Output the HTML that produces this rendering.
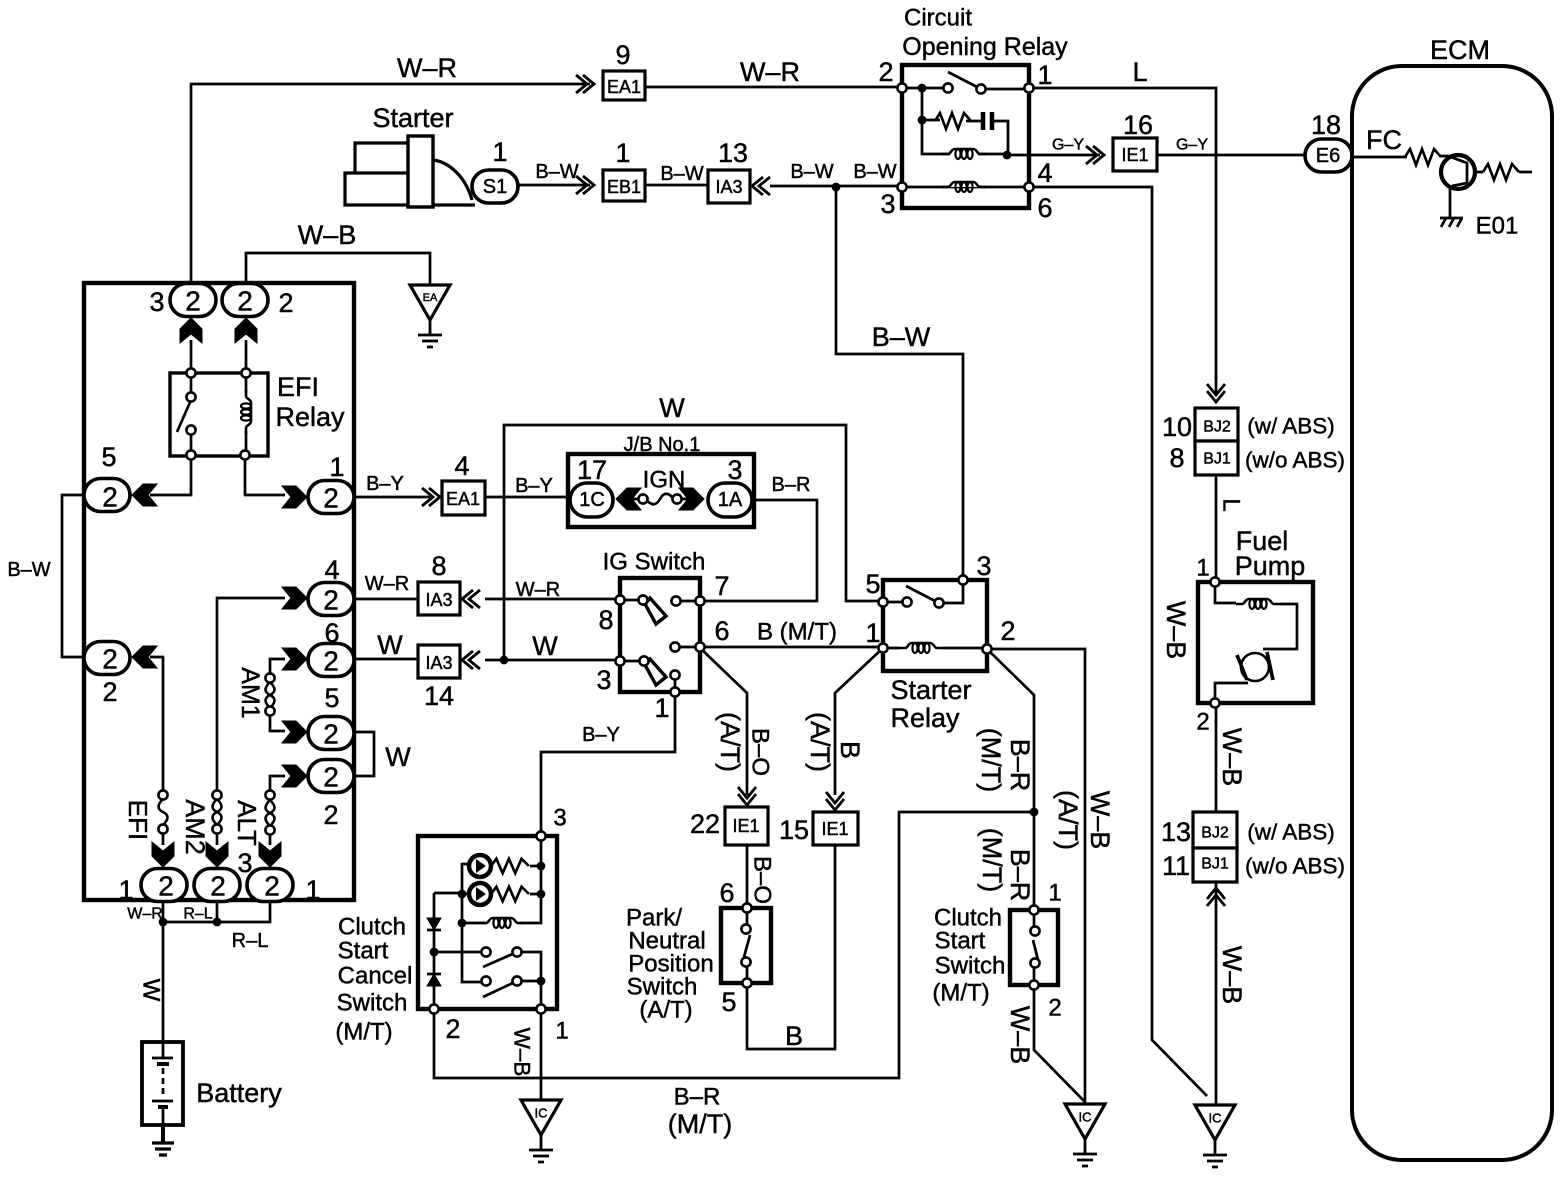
<!DOCTYPE html>
<html><head><meta charset="utf-8"><title>Fuel pump wiring diagram</title>
<style>
html,body{margin:0;padding:0;background:#fff}
svg{display:block}
text{font-family:"Liberation Sans",sans-serif;font-size:27px;text-anchor:middle;dominant-baseline:central;fill:#000;stroke:#000;stroke-width:.45}
.s{font-size:20px}.xs{font-size:16px}.m{font-size:24px}.b{font-size:28px}.c{font-size:18px}.a{font-size:22.5px}
.w{fill:none;stroke:#000;stroke-width:2.7;stroke-linejoin:miter}
.k{fill:none;stroke:#000;stroke-width:4.4;stroke-linejoin:miter}
.o{fill:#fff;stroke:#000;stroke-width:3.6}
.x{fill:#fff;stroke:#000;stroke-width:3.2}
</style></head><body>
<svg width="1560" height="1184" viewBox="0 0 1560 1184" xmlns="http://www.w3.org/2000/svg">
<defs>
<polygon id="ch" points="-25,-11 -11,-11 0,0 -11,11 -25,11 -16,0" fill="#000" stroke="#000"/>
<path id="ar" d="M-11,-9 L0,0 L-11,9 M-18,-9 L-7,0 L-18,9" fill="none" stroke="#000" stroke-width="2.8"/>
<circle id="t" r="4.6" fill="#fff" stroke="#000" stroke-width="2.6"/>
<circle id="d" r="4.4" fill="#000"/>
<g id="coil"><path d="M-22,0 H-16 C-13,0 -13,-5 -9,-5 H9 C13,-5 13,0 16,0 H22" fill="#fff" stroke="#000" stroke-width="2.6"/><ellipse cx="-6" cy="0" rx="2.6" ry="5" fill="none" stroke="#000" stroke-width="2.2"/><ellipse cx="0" cy="0" rx="2.6" ry="5" fill="none" stroke="#000" stroke-width="2.2"/><ellipse cx="6" cy="0" rx="2.6" ry="5" fill="none" stroke="#000" stroke-width="2.2"/></g>
<path id="res" d="M-18,0 L-13,-8 L-7,8 L-1,-8 L5,8 L11,-8 L18,0" fill="none" stroke="#000" stroke-width="2.6"/>
<path id="fuse" d="M0,0 V4 C-6,10 -6,14 0,17 C6,20 6,24 0,30 V34" fill="none" stroke="#000" stroke-width="2.6"/>
<path id="fuse2" d="M0,0 V4 C-6,10 -6,14 0,17 C6,20 6,24 0,30 V34 M0,0 V4 C6,10 6,14 0,17 C-6,20 -6,24 0,30 V34" fill="none" stroke="#000" stroke-width="2.6"/>
<path id="gnd" d="M0,0 V16 M-12,16 H12 M-8,22 H8 M-3,28 H3" fill="none" stroke="#000" stroke-width="2.8"/>
<rect id="ov" x="-23" y="-16.5" width="46" height="33" rx="16.5" class="o"/>
</defs>
<rect width="1560" height="1184" fill="#fff"/>

<!-- wires -->
<g class="w">
<path d="M191,283 V84 H590 M645,87 H902 M1029,88 H1216 V395"/>
<path d="M518,185 H590 M645,185 H708 M770,186 H902 M836,187 V354 H963 V580"/>
<path d="M1007,155 H1100 M1157,155 H1305 M1352,157 H1407"/>
<path d="M1029,187 H1152 V1040 L1207,1096"/>
<path d="M1216,475 V582 M1216,703 V812 M1216,882 V1105"/>
<path d="M246,283 V253 H430 V285"/>
<path d="M191,340 V373 M246,340 V373 M191,455 V495 H150 M245,455 V495 H285"/>
<path d="M84,495 H62 V657 H84 M150,657 H163 V795 M163,829 V845"/>
<path d="M285,598 H217 V795 M217,829 V845 M285,776 H270 V795 M270,830 V845"/>
<path d="M285,659 H270 V678 M270,712 V731 H285 M354,732 H374 V776 H354"/>
<path d="M163,902 V1042 M163,922 H270 V902 M217,902 V922"/>
<path d="M354,497 H430 M485,497 H568 M754,500 H817 V601 H700"/>
<path d="M354,599 H418 M485,599 H620 M354,659 H418 M485,660 H620"/>
<path d="M504,660 V425 H846 V601 H883"/>
<path d="M699,647 H883 M699,647 L747,693 V795 M883,648 L835,693 V795"/>
<path d="M747,845 V908 M747,984 V1049 H835 V845"/>
<path d="M987,649 H1085 V1105 M987,649 L1034,695 V910 M1034,812 H899 V1078 H434 V1009"/>
<path d="M1034,985 V1050 L1085,1102"/>
<path d="M541,836 V752 H675 V692 M541,1009 V1100"/>
</g>

<!-- Starter -->
<g class="w" stroke-width="3.2">
<path d="M408,143 H355 V172 M408,173 H345 V205 H475 M433,160 C450,162 466,178 472,200" style="stroke-width:3.2"/>
<rect x="408" y="136" width="25" height="71" fill="#fff" style="stroke-width:3.4"/>
</g>

<!-- connector boxes -->
<rect x="603" y="71" width="42" height="29" class="x"/><text class="c" x="624" y="87">EA1</text>
<rect x="603" y="170" width="42" height="31" class="x"/><text class="c" x="624" y="187">EB1</text>
<rect x="708" y="170" width="42" height="33" class="x"/><text class="c" x="729" y="187">IA3</text>
<rect x="1113" y="138" width="44" height="33" class="x"/><text class="c" x="1135" y="155">IE1</text>
<rect x="442" y="481" width="43" height="34" class="x"/><text class="c" x="463" y="499">EA1</text>
<rect x="418" y="582" width="42" height="33" class="x"/><text class="c" x="439" y="600">IA3</text>
<rect x="418" y="645" width="42" height="33" class="x"/><text class="c" x="439" y="663">IA3</text>
<rect x="725" y="807" width="43" height="38" class="x"/><text class="c" x="746" y="826">IE1</text>
<rect x="813" y="812" width="45" height="33" class="x"/><text class="c" x="835" y="829">IE1</text>
<rect x="1195" y="408" width="43" height="33" class="x"/><text class="xs" x="1217" y="427">BJ2</text>
<rect x="1195" y="441" width="43" height="34" class="x"/><text class="xs" x="1217" y="459">BJ1</text>
<rect x="1193" y="812" width="44" height="36" class="x"/><text class="xs" x="1215" y="833">BJ2</text>
<rect x="1193" y="848" width="44" height="34" class="x"/><text class="xs" x="1215" y="864">BJ1</text>

<!-- open arrows -->
<use href="#ar" transform="translate(594,84)"/>
<use href="#ar" transform="translate(594,185)"/>
<use href="#ar" transform="translate(752,186) rotate(180)"/>
<use href="#ar" transform="translate(1104,155)"/>
<use href="#ar" transform="translate(1216,402) rotate(90)"/>
<use href="#ar" transform="translate(1216,888) rotate(-90)"/>
<use href="#ar" transform="translate(440,497)"/>
<use href="#ar" transform="translate(462,599) rotate(180)"/>
<use href="#ar" transform="translate(462,660) rotate(180)"/>
<use href="#ar" transform="translate(747,805) rotate(90)"/>
<use href="#ar" transform="translate(835,810) rotate(90)"/>

<!-- Circuit opening relay -->
<rect x="902" y="65" width="127" height="143" class="k"/>
<g class="w">
<path d="M902,88 H944 M985,89 H1029 M948,72 L981,89"/>
<path d="M922,88 V154 H950 M922,120 H940 M966,121 H983 M992,121 H1008 V154 M978,154 H1008"/>
<path d="M983,112 V130 M992,112 V130" style="stroke-width:4.5"/>
<path d="M902,187 H1029"/>
</g>
<use href="#res" transform="translate(953,121)"/>
<use href="#coil" transform="translate(964,154)"/>
<use href="#coil" transform="translate(964,187)"/>
<use href="#t" x="902" y="88"/><use href="#t" x="1029" y="88"/><use href="#t" x="902" y="187"/><use href="#t" x="1029" y="187"/>
<use href="#t" x="948" y="88"/><use href="#t" x="981" y="89"/>
<use href="#d" x="922" y="88"/><use href="#d" x="922" y="120"/><use href="#d" x="1007" y="155"/><use href="#d" x="836" y="187"/>

<!-- S1 and E6 -->
<rect x="472" y="170" width="46" height="33" rx="16.5" class="o"/><text class="s" x="495" y="187">S1</text>
<rect x="1305" y="139" width="47" height="33" rx="16.5" class="o"/><text class="s" x="1328" y="156">E6</text>

<!-- ECM -->
<rect x="1352" y="66" width="200" height="1094" rx="50" fill="none" stroke="#000" stroke-width="4"/>
<use href="#res" transform="translate(1423,157)"/>
<use href="#res" transform="translate(1501,172)"/>
<circle cx="1458" cy="172" r="17" fill="none" stroke="#000" stroke-width="4.2"/>
<g class="w"><path d="M1440,156 H1448 L1467,163 V183 L1452,186 M1450,187 V217 M1519,172 H1532 M1475,172 H1483"/>
<path d="M1440,218 H1463 M1441,227 L1446,218 M1449,227 L1454,218 M1457,227 L1462,218"/></g>

<!-- Main box -->
<rect x="84" y="283" width="270" height="617" class="k"/>
<!-- EFI relay -->
<rect x="170" y="373" width="98" height="83" class="k" style="stroke-width:3.4"/>
<g class="w">
<path d="M191,373 V397 M191,430 V455 M246,373 V393 M246,431 V455 M191,400 L177,432"/>
</g>
<g transform="translate(246,412) rotate(90)"><use href="#coil"/></g>
<use href="#t" x="191" y="373"/><use href="#t" x="246" y="373"/><use href="#t" x="191" y="455"/><use href="#t" x="245" y="455"/>
<use href="#t" x="191" y="397"/><use href="#t" x="191" y="430"/>

<!-- chevrons -->
<use href="#ch" transform="translate(191,318) rotate(-90)"/>
<use href="#ch" transform="translate(246,318) rotate(-90)"/>
<use href="#ch" transform="translate(132,495) rotate(180)"/>
<use href="#ch" transform="translate(307,497)"/>
<use href="#ch" transform="translate(307,598)"/>
<use href="#ch" transform="translate(307,659)"/>
<use href="#ch" transform="translate(307,732)"/>
<use href="#ch" transform="translate(307,776)"/>
<use href="#ch" transform="translate(132,657) rotate(180)"/>
<use href="#ch" transform="translate(163,867) rotate(90)"/>
<use href="#ch" transform="translate(217,867) rotate(90)"/>
<use href="#ch" transform="translate(270,867) rotate(90)"/>

<!-- fuses -->
<use href="#fuse" x="163" y="795"/><use href="#fuse2" x="217" y="795"/><use href="#fuse2" x="270" y="796"/><use href="#fuse2" x="270" y="678"/>
<use href="#t" x="163" y="795"/><use href="#t" x="163" y="829"/><use href="#t" x="217" y="795"/><use href="#t" x="217" y="829"/><use href="#t" x="270" y="795"/><use href="#t" x="270" y="830"/><use href="#t" x="270" y="678"/><use href="#t" x="270" y="711"/>

<!-- ovals with 2 -->
<use href="#ov" x="193" y="300"/><text class="b" x="193" y="301">2</text>
<use href="#ov" x="245" y="300"/><text class="b" x="245" y="301">2</text>
<use href="#ov" x="107" y="495"/><text class="b" x="110" y="497">2</text>
<use href="#ov" x="331" y="497"/><text class="b" x="331" y="498">2</text>
<use href="#ov" x="331" y="599"/><text class="b" x="331" y="600">2</text>
<use href="#ov" x="331" y="660"/><text class="b" x="331" y="661">2</text>
<use href="#ov" x="331" y="733"/><text class="b" x="331" y="734">2</text>
<use href="#ov" x="331" y="776"/><text class="b" x="331" y="777">2</text>
<use href="#ov" x="107" y="658"/><text class="b" x="110" y="659">2</text>
<use href="#ov" x="164" y="885"/><text class="b" x="166" y="886">2</text>
<use href="#ov" x="217" y="885"/><text class="b" x="218" y="886">2</text>
<use href="#ov" x="270" y="885"/><text class="b" x="272" y="886">2</text>
<use href="#d" x="163" y="922"/><use href="#d" x="217" y="922"/>

<!-- battery -->
<rect x="142" y="1042" width="41" height="83" fill="#fff" stroke="#000" stroke-width="3.8"/>
<g class="w"><path d="M163,1042 V1058 M152,1058 H173 M163,1101 H163 M152,1101 H173 M163,1107 V1125"/>
<path d="M163,1068 V1098" stroke-dasharray="6 4"/>
<path d="M157,1064 H169 M158,1107 H168" style="stroke-width:4"/></g>
<path d="M163,1125 V1143" stroke="#000" stroke-width="4" fill="none"/>
<path d="M152,1143 H174 M155,1149 H171 M159,1155 H167" stroke="#000" stroke-width="3.2" fill="none"/>

<!-- grounds -->
<polygon points="410,285 450,285 430,320" class="x"/><text x="430" y="298" style="font-size:11px">EA</text><use href="#gnd" x="430" y="319"/>
<polygon points="521,1100 561,1100 541,1135" class="x"/><text x="541" y="1113" style="font-size:13px">IC</text><use href="#gnd" x="541" y="1134"/>
<polygon points="1065,1104 1105,1104 1085,1139" class="x"/><text x="1085" y="1117" style="font-size:13px">IC</text><use href="#gnd" x="1085" y="1138"/>
<polygon points="1195,1105 1235,1105 1215,1140" class="x"/><text x="1215" y="1118" style="font-size:13px">IC</text><use href="#gnd" x="1215" y="1139"/>

<!-- J/B -->
<rect x="568" y="454" width="186" height="73" class="k"/>
<rect x="570" y="483" width="43" height="34" rx="17" class="o"/><text class="s" x="592" y="500">1C</text>
<rect x="708" y="483" width="44" height="34" rx="17" class="o"/><text class="s" x="730" y="500">1A</text>
<use href="#ch" transform="translate(616,499) rotate(180)"/>
<use href="#ch" transform="translate(704,499)"/>
<g class="w"><path d="M630,499 H640 M680,499 H690 M645,499 C652,506 656,506 660,499 C664,492 668,492 674,499"/></g>
<use href="#t" x="643" y="499"/><use href="#t" x="677" y="499"/>

<!-- IG switch -->
<rect x="620" y="578" width="80" height="114" class="k"/>
<g class="w">
<path d="M620,600 H640 M680,601 H700 M680,647 H700 M620,661 H640 M675,680 V692"/>
<polygon points="645,604 650,598 666,616 656,624" fill="#fff" style="stroke-width:3.4"/>
<polygon points="645,665 650,659 666,677 656,685" fill="#fff" style="stroke-width:3.4"/>
</g>
<use href="#t" x="620" y="600"/><use href="#t" x="700" y="601"/><use href="#t" x="620" y="661"/><use href="#t" x="700" y="647"/><use href="#t" x="675" y="692"/>
<use href="#t" x="643" y="600"/><use href="#t" x="676" y="601"/><use href="#t" x="644" y="661"/><use href="#t" x="675" y="647"/><use href="#t" x="675" y="675"/>
<use href="#d" x="504" y="660"/>

<!-- Starter relay -->
<rect x="883" y="580" width="104" height="91" class="k"/>
<g class="w"><path d="M883,602 H907 M906,586 L939,603 M939,603 H963 V580"/></g>
<use href="#coil" transform="translate(921,648)"/>
<g class="w"><path d="M883,648 H900 M943,648 H987"/></g>
<use href="#t" x="883" y="602"/><use href="#t" x="963" y="580"/><use href="#t" x="883" y="648"/><use href="#t" x="987" y="649"/><use href="#t" x="907" y="602"/><use href="#t" x="939" y="603"/>

<!-- Fuel pump -->
<rect x="1198" y="582" width="115" height="121" class="k"/>
<g class="w"><path d="M1215,582 V603 H1236 M1280,604 H1297 V649 H1263 M1248,683 H1215 V703"/></g>
<use href="#coil" transform="translate(1258,604)"/>
<circle cx="1255" cy="667" r="14" fill="none" stroke="#000" stroke-width="2.6"/>
<path d="M1237,655 L1247,680 M1267,652 L1273,680" fill="none" stroke="#000" stroke-width="3.6"/>
<use href="#t" x="1215" y="582"/><use href="#t" x="1215" y="703"/>

<!-- Clutch start cancel switch -->
<rect x="418" y="836" width="139" height="173" class="k"/>
<g class="w">
<path d="M541,836 V923 H520 M485,923 H462 V982 H486 M462,863 V923 M434,893 H462 M434,893 V1009"/>
<path d="M541,866 H530 M541,894 H530 M462,864 H468 M462,894 H468"/>
<path d="M434,952 H486 M517,952 H541 V1009 M517,981 H541 M483,967 L517,952 M483,997 L517,981"/>
<polygon points="427,918 441,918 434,930" fill="#000" style="stroke-width:1"/><path d="M427,930 H441"/>
<polygon points="427,986 441,986 434,974" fill="#000" style="stroke-width:1"/><path d="M427,974 H441"/>
</g>
<circle cx="480" cy="866" r="11" fill="#fff" stroke="#000" stroke-width="4.5"/><path d="M476,859 V873 L486,866Z" fill="#000"/>
<circle cx="480" cy="894" r="11" fill="#fff" stroke="#000" stroke-width="4.5"/><path d="M476,887 V901 L486,894Z" fill="#000"/>
<use href="#res" transform="translate(510,866) scale(1.05,.9)"/>
<use href="#res" transform="translate(510,894) scale(1.05,.9)"/>
<g class="w"><path d="M491,866 H493 M491,894 H493"/></g>
<use href="#coil" transform="translate(502,923)"/>
<use href="#d" x="541" y="866"/><use href="#d" x="541" y="894"/><use href="#d" x="462" y="894"/><use href="#d" x="462" y="923"/><use href="#d" x="434" y="952"/><use href="#d" x="541" y="981"/>
<use href="#t" x="541" y="836"/><use href="#t" x="434" y="1009"/><use href="#t" x="541" y="1009"/>
<use href="#t" x="486" y="952"/><use href="#t" x="517" y="952"/><use href="#t" x="486" y="981"/><use href="#t" x="517" y="981"/>

<!-- Park neutral -->
<rect x="721" y="908" width="50" height="75" class="k"/>
<g class="w"><path d="M747,908 V929 M747,962 V983 M750,935 L744,957"/></g>
<use href="#t" x="747" y="908"/><use href="#t" x="747" y="983"/><use href="#t" x="746" y="929"/><use href="#t" x="746" y="962"/>

<!-- Clutch start -->
<rect x="1010" y="910" width="48" height="75" class="k"/>
<g class="w"><path d="M1034,910 V931 M1034,963 V985 M1033,940 L1038,960"/></g>
<use href="#t" x="1034" y="910"/><use href="#t" x="1034" y="985"/><use href="#t" x="1035" y="931"/><use href="#t" x="1035" y="963"/>
<use href="#d" x="1034" y="812"/>

<!-- labels -->
<text x="427" y="68">W–R</text><text x="770" y="72">W–R</text><text x="623" y="55">9</text>
<text x="886" y="72">2</text><text x="1045" y="75">1</text><text x="1140" y="72">L</text>
<text x="938" y="18" class="m">Circuit</text><text x="985" y="47" style="font-size:25px">Opening Relay</text>
<text x="413" y="118">Starter</text><text x="500" y="152">1</text><text x="557" y="172" class="s">B–W</text>
<text x="623" y="153">1</text><text x="682" y="174" class="s">B–W</text><text x="733" y="153">13</text>
<text x="812" y="172" class="s">B–W</text><text x="875" y="172" class="s">B–W</text>
<text x="888" y="204">3</text><text x="1045" y="173">4</text><text x="1045" y="208">6</text>
<text x="1068" y="145" class="xs">G–Y</text><text x="1192" y="145" class="xs">G–Y</text>
<text x="1138" y="125">16</text><text x="1326" y="125">18</text>
<text x="1460" y="50">ECM</text><text x="1384" y="140">FC</text><text x="1497" y="226" class="m">E01</text>
<text x="327" y="235">W–B</text><text x="901" y="337">B–W</text>
<text x="157" y="302">3</text><text x="286" y="303">2</text>
<text x="298" y="387">EFI</text><text x="310" y="417">Relay</text>
<text x="109" y="457">5</text><text x="337" y="467">1</text>
<text x="385" y="484" class="s">B–Y</text><text x="462" y="466">4</text><text x="534" y="486" class="s">B–Y</text>
<text x="672" y="408">W</text><text x="662" y="445" class="s">J/B No.1</text>
<text x="592" y="470">17</text><text x="735" y="470">3</text><text x="664" y="480" class="m">IGN</text><text x="791" y="485" class="s">B–R</text>
<text x="29" y="570" class="s">B–W</text><text x="110" y="692">2</text>
<text x="387" y="584" class="s">W–R</text><text x="439" y="566">8</text><text x="538" y="590" class="s">W–R</text>
<text x="390" y="645">W</text><text x="439" y="696">14</text><text x="545" y="646">W</text>
<text x="654" y="562" class="m">IG Switch</text>
<text x="722" y="586">7</text><text x="606" y="620">8</text><text x="722" y="631">6</text><text x="604" y="680">3</text><text x="662" y="708">1</text>
<text x="797" y="632" class="m">B (M/T)</text>
<text x="332" y="570">4</text><text x="332" y="633">6</text><text x="332" y="698">5</text><text x="331" y="815">2</text>
<text x="398" y="757">W</text><text x="601" y="735" class="s">B–Y</text>
<text x="126" y="890">1</text><text x="313" y="890">1</text><text x="245" y="863">3</text>
<text x="145" y="914" class="xs">W–R</text><text x="198" y="914" class="xs">R–L</text><text x="250" y="941" class="s">R–L</text>
<text x="239" y="1093">Battery</text>
<text x="372" y="927" class="m">Clutch</text><text x="363" y="951" class="m">Start</text><text x="375" y="976" class="m">Cancel</text><text x="372" y="1003" class="m">Switch</text><text x="364" y="1032" class="m">(M/T)</text>
<text x="560" y="818" class="m">3</text><text x="453" y="1029">2</text><text x="562" y="1031" class="m">1</text>
<text x="697" y="1097" class="m">B–R</text><text x="700" y="1124">(M/T)</text>
<text x="654" y="918" class="m">Park/</text><text x="667" y="941" class="m">Neutral</text><text x="671" y="964" class="m">Position</text><text x="662" y="987" class="m">Switch</text><text x="666" y="1010" class="m">(A/T)</text>
<text x="705" y="824">22</text><text x="794" y="830">15</text><text x="727" y="893">6</text><text x="729" y="1002">5</text><text x="794" y="1036">B</text>
<text x="873" y="584">5</text><text x="984" y="566">3</text><text x="873" y="633">1</text><text x="1008" y="631">2</text>
<text x="931" y="690">Starter</text><text x="925" y="718">Relay</text>
<text x="968" y="918" class="m">Clutch</text><text x="960" y="941" class="m">Start</text><text x="970" y="966" class="m">Switch</text><text x="961" y="993" class="m">(M/T)</text>
<text x="1055" y="893" class="m">1</text><text x="1055" y="1008" class="m">2</text>
<text x="1177" y="427">10</text><text x="1177" y="458">8</text><text x="1291" y="426" class="a">(w/ ABS)</text><text x="1295" y="460" class="a">(w/o ABS)</text>
<text x="1262" y="541">Fuel</text><text x="1270" y="566">Pump</text><text x="1203" y="568" class="m">1</text><text x="1203" y="722" class="m">2</text>
<text x="1176" y="832">13</text><text x="1176" y="866">11</text><text x="1291" y="832" class="a">(w/ ABS)</text><text x="1295" y="866" class="a">(w/o ABS)</text>

<!-- rotated labels -->
<g>
<text style="font-size:26px" transform="translate(138,820) rotate(90)">EFI</text>
<text style="font-size:27px" transform="translate(195,827) rotate(90)">AM2</text>
<text style="font-size:26px" transform="translate(247,823) rotate(90)">ALT</text>
<text style="font-size:25px" transform="translate(250,693) rotate(90)">AM1</text>
<text class="m" transform="translate(151,990) rotate(90)">W</text>
<text class="a" transform="translate(522,1052) rotate(90)">W–B</text>
<text class="m" transform="translate(760,752) rotate(90)">B–O</text>
<text class="m" transform="translate(762,880) rotate(90)">B–O</text>
<text transform="translate(730,742) rotate(90)">(A/T)</text>
<text transform="translate(850,750) rotate(90)">B</text>
<text transform="translate(820,742) rotate(90)">(A/T)</text>
<text transform="translate(1020,765) rotate(90)">B–R</text>
<text transform="translate(991,760) rotate(90)">(M/T)</text>
<text transform="translate(1020,875) rotate(90)">B–R</text>
<text transform="translate(992,860) rotate(90)">(M/T)</text>
<text transform="translate(1100,820) rotate(90)">W–B</text>
<text transform="translate(1068,820) rotate(90)">(A/T)</text>
<text transform="translate(1020,1035) rotate(90)">W–B</text>
<text transform="translate(1176,630) rotate(90)">W–B</text>
<text transform="translate(1232,757) rotate(90)">W–B</text>
<text transform="translate(1232,975) rotate(90)">W–B</text>
<text class="m" transform="translate(1231,505) rotate(90)">L</text>
</g>
</svg>
</body></html>
